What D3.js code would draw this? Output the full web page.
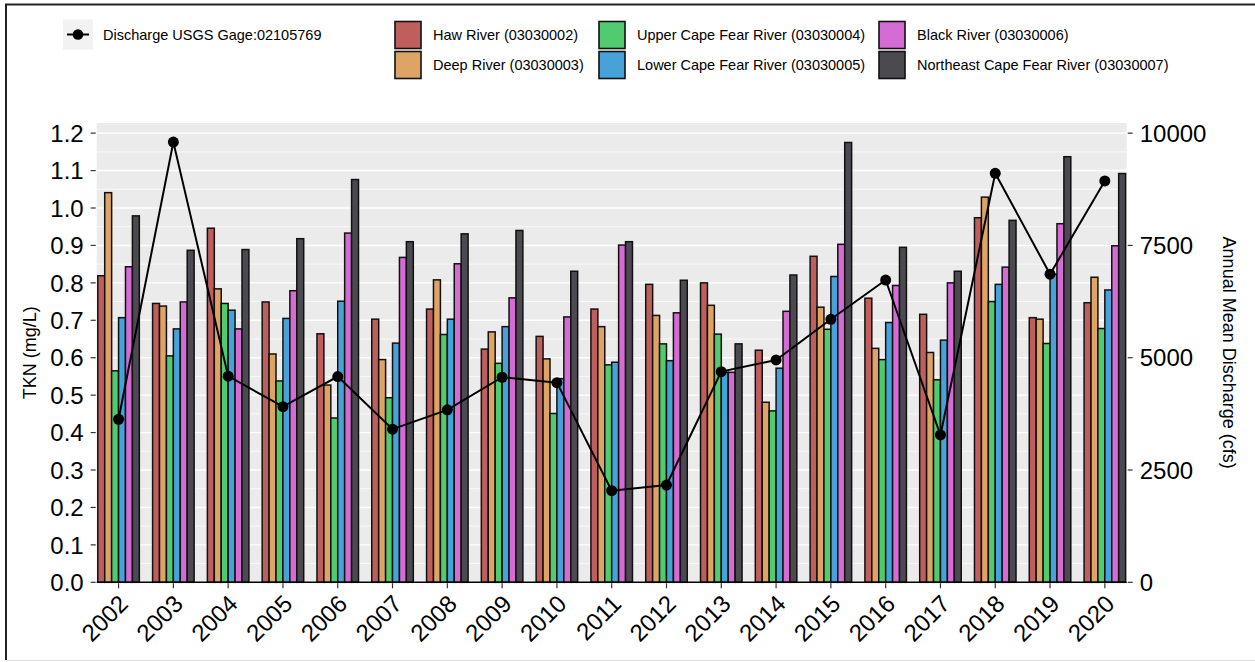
<head>
    <script src="https://d3js.org/d3.v7.min.js"></script>
    <style>
        body { margin: 0; background: #fff; }
        text { font-family: "Liberation Sans", Arial, sans-serif; }
    </style>
</head>

<body>
    <div id="chart"></div>
</body>

<script>
    // data
    const years = ["2002", "2003", "2004", "2005", "2006", "2007", "2008", "2009", "2010", "2011",
        "2012", "2013", "2014", "2015", "2016", "2017", "2018", "2019", "2020"];
    const seriesNames = ["Haw River (03030002)", "Deep River (03030003)", "Upper Cape Fear River (03030004)",
        "Lower Cape Fear River (03030005)", "Black River (03030006)", "Northeast Cape Fear River (03030007)"];
    const seriesColors = ["#BE5F5D", "#DEA465", "#50CB70", "#46A2D8", "#D46CD4", "#4A4A50"];

    const haw = [0.819, 0.745, 0.946, 0.749, 0.664, 0.703, 0.730, 0.623, 0.657, 0.730,
        0.796, 0.800, 0.620, 0.871, 0.759, 0.716, 0.974, 0.707, 0.747];
    const deep = [1.041, 0.738, 0.784, 0.610, 0.527, 0.595, 0.808, 0.669, 0.597, 0.683,
        0.713, 0.740, 0.481, 0.735, 0.625, 0.614, 1.029, 0.703, 0.815];
    const upperCapeFear = [0.565, 0.605, 0.745, 0.538, 0.439, 0.493, 0.662, 0.585, 0.451, 0.581,
        0.637, 0.663, 0.458, 0.676, 0.595, 0.541, 0.750, 0.638, 0.678];
    const lowerCapeFear = [0.707, 0.677, 0.727, 0.705, 0.751, 0.639, 0.703, 0.683, 0.544, 0.588,
        0.592, 0.561, 0.572, 0.817, 0.694, 0.647, 0.796, 0.823, 0.781];
    const blackRiver = [0.843, 0.749, 0.677, 0.779, 0.933, 0.868, 0.851, 0.760, 0.709, 0.901,
        0.720, 0.561, 0.724, 0.903, 0.793, 0.800, 0.842, 0.958, 0.899];
    const northeastCapeFear = [0.979, 0.887, 0.889, 0.918, 1.076, 0.910, 0.931, 0.940, 0.831, 0.910,
        0.807, 0.637, 0.821, 1.175, 0.895, 0.831, 0.967, 1.137, 1.092];

    // annual mean discharge (cfs)
    const discharge = [3630, 9800, 4590, 3910, 4580, 3410, 3840, 4565, 4445, 2040,
        2165, 4690, 4950, 5855, 6730, 3280, 9105, 6860, 8935];

    const leftTicks = [0, 0.1, 0.2, 0.3, 0.4, 0.5, 0.6, 0.7, 0.8, 0.9, 1.0, 1.1, 1.2];
    const rightTicks = [0, 2500, 5000, 7500, 10000];

    const allSeries = [haw, deep, upperCapeFear, lowerCapeFear, blackRiver, northeastCapeFear];
    const ratio = 1.2 / 10000; // secondary axis scaling

    const W = 1255, H = 662;
    const svg = d3.select("#chart").append("svg")
        .attr("width", W)
        .attr("height", H);

    svg.append("rect").attr("width", W).attr("height", H).attr("fill", "#fff");

    // frame (top + left only, bottom faint)
    svg.append("line").attr("x1", 5).attr("x2", W).attr("y1", 4.5).attr("y2", 4.5)
        .attr("stroke", "#222").attr("stroke-width", 2);
    svg.append("line").attr("x1", 6).attr("x2", 6).attr("y1", 4).attr("y2", 660)
        .attr("stroke", "#222").attr("stroke-width", 2);
    svg.append("line").attr("x1", 6).attr("x2", W).attr("y1", 660.5).attr("y2", 660.5)
        .attr("stroke", "#ddd").attr("stroke-width", 1);

    const panel = { left: 96.7, right: 1126.7, top: 123, bottom: 582.3 };
    const yMax = (panel.bottom - panel.top) / 374.3;

    const x = d3.scaleBand().domain(years).range([panel.left, panel.right])
        .paddingInner(0.242).paddingOuter(0.02);
    const xs = d3.scaleBand().domain(d3.range(6)).range([0, x.bandwidth()]);
    const y = d3.scaleLinear().domain([0, yMax]).range([panel.bottom, panel.top]);
    const y2 = d3.scaleLinear().domain([0, yMax / ratio]).range([panel.bottom, panel.top]);

    // panel background + grid
    svg.append("rect")
        .attr("x", panel.left).attr("y", panel.top)
        .attr("width", panel.right - panel.left).attr("height", panel.bottom - panel.top)
        .attr("fill", "#EBEBEB");

    const minor = d3.range(0.05, yMax, 0.1);
    svg.append("g").selectAll("line").data(minor).join("line")
        .attr("x1", panel.left).attr("x2", panel.right)
        .attr("y1", d => y(d)).attr("y2", d => y(d))
        .attr("stroke", "#fff").attr("stroke-width", 0.7);
    svg.append("g").selectAll("line").data(leftTicks).join("line")
        .attr("x1", panel.left).attr("x2", panel.right)
        .attr("y1", d => y(d)).attr("y2", d => y(d))
        .attr("stroke", "#fff").attr("stroke-width", 1.4);

    // bars
    const groups = svg.append("g").selectAll("g").data(years).join("g")
        .attr("transform", d => `translate(${x(d)},0)`);
    groups.selectAll("rect")
        .data((d, i) => allSeries.map((s, k) => ({ k: k, v: s[i] })))
        .join("rect")
        .attr("x", d => xs(d.k))
        .attr("y", d => y(d.v))
        .attr("width", xs.bandwidth())
        .attr("height", d => y(0) - y(d.v))
        .attr("fill", d => seriesColors[d.k])
        .attr("stroke", "#111")
        .attr("stroke-width", 1.5);

    // discharge line
    const cx = d => x(d) + x.bandwidth() / 2;
    const line = d3.line()
        .x((d, i) => cx(years[i]))
        .y(d => y2(d));
    svg.append("path").datum(discharge)
        .attr("d", line)
        .attr("fill", "none")
        .attr("stroke", "#000")
        .attr("stroke-width", 2);
    svg.append("g").selectAll("circle").data(discharge).join("circle")
        .attr("cx", (d, i) => cx(years[i]))
        .attr("cy", d => y2(d))
        .attr("r", 5.5)
        .attr("fill", "#000");

    // x axis line
    svg.append("line").attr("x1", panel.left).attr("x2", panel.right)
        .attr("y1", panel.bottom).attr("y2", panel.bottom)
        .attr("stroke", "#000").attr("stroke-width", 1.6);

    // left axis
    const gl = svg.append("g");
    gl.selectAll("line").data(leftTicks).join("line")
        .attr("x1", panel.left - 6).attr("x2", panel.left - 1)
        .attr("y1", d => y(d)).attr("y2", d => y(d))
        .attr("stroke", "#333").attr("stroke-width", 1.2);
    gl.selectAll("text").data(leftTicks).join("text")
        .attr("x", panel.left - 13)
        .attr("y", d => y(d))
        .attr("dy", "0.36em")
        .attr("text-anchor", "end")
        .attr("font-size", 24)
        .attr("fill", "#000")
        .text(d => d3.format(".1f")(d));

    // right axis
    const gr = svg.append("g");
    gr.selectAll("line").data(rightTicks).join("line")
        .attr("x1", panel.right + 1).attr("x2", panel.right + 6)
        .attr("y1", d => y2(d)).attr("y2", d => y2(d))
        .attr("stroke", "#333").attr("stroke-width", 1.2);
    gr.selectAll("text").data(rightTicks).join("text")
        .attr("x", panel.right + 13)
        .attr("y", d => y2(d))
        .attr("dy", "0.36em")
        .attr("font-size", 24)
        .attr("fill", "#000")
        .text(d => d);

    // bottom axis
    const gb = svg.append("g");
    gb.selectAll("line").data(years).join("line")
        .attr("x1", d => cx(d)).attr("x2", d => cx(d))
        .attr("y1", panel.bottom + 1).attr("y2", panel.bottom + 6)
        .attr("stroke", "#333").attr("stroke-width", 1.2);
    gb.selectAll("text").data(years).join("text")
        .attr("transform", d => `translate(${cx(d) + 11},${panel.bottom + 23}) rotate(-45)`)
        .attr("text-anchor", "end")
        .attr("font-size", 24)
        .attr("fill", "#000")
        .text(d => d);

    // axis titles
    svg.append("text")
        .attr("transform", `translate(36,${(panel.top + panel.bottom) / 2}) rotate(-90)`)
        .attr("text-anchor", "middle")
        .attr("font-size", 18)
        .attr("fill", "#000")
        .text("TKN (mg/L)");
    svg.append("text")
        .attr("transform", `translate(1223,${(panel.top + panel.bottom) / 2}) rotate(90)`)
        .attr("text-anchor", "middle")
        .attr("font-size", 18)
        .attr("fill", "#000")
        .text("Annual Mean Discharge (cfs)");

    // legend: discharge
    const lg = svg.append("g");
    lg.append("rect").attr("x", 63).attr("y", 19.5).attr("width", 30).attr("height", 30).attr("fill", "#F2F2F2");
    lg.append("line").attr("x1", 67).attr("x2", 89).attr("y1", 34.5).attr("y2", 34.5)
        .attr("stroke", "#000").attr("stroke-width", 2);
    lg.append("circle").attr("cx", 78).attr("cy", 34.5).attr("r", 5.3).attr("fill", "#000");
    lg.append("text").attr("x", 103).attr("y", 34.5).attr("dy", "0.36em")
        .attr("font-size", 14.5).text("Discharge USGS Gage:02105769");

    // legend: fills (2 rows, by column)
    const colX = [395, 599, 879];
    const rowY = [21.5, 51.5];
    const items = svg.append("g").selectAll("g").data(seriesNames).join("g")
        .attr("transform", (d, i) => `translate(${colX[Math.floor(i / 2)]},${rowY[i % 2]})`);
    items.append("rect")
        .attr("width", 26).attr("height", 27)
        .attr("fill", (d, i) => seriesColors[i])
        .attr("stroke", "#111").attr("stroke-width", 1.6);
    items.append("text")
        .attr("x", 38).attr("y", 13.5).attr("dy", "0.36em")
        .attr("font-size", 14.5)
        .text(d => d);
</script>
